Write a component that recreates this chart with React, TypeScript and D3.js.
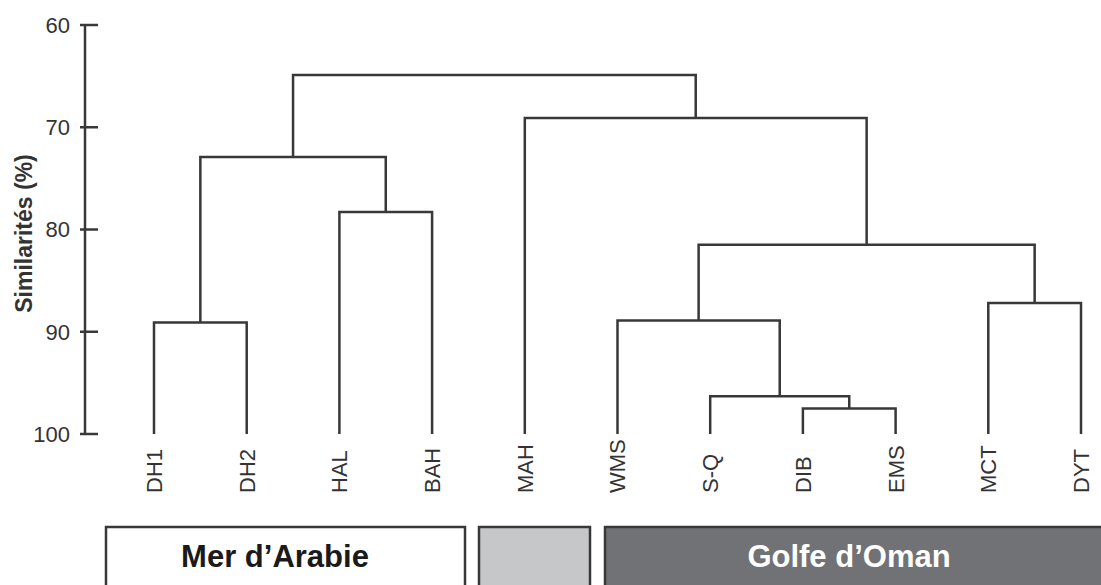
import React from "react";
import * as d3 from "d3";

const leaves = ["DH1", "DH2", "HAL", "BAH", "MAH", "WMS", "S-Q", "DIB", "EMS", "MCT", "DYT"];

// merges: two children (leaf names or merge ids) joined at a similarity level (%)
const mergeIds = ["a", "b", "c", "d", "e", "f", "g", "h", "i", "j"];
const mergeLeft = ["DH1", "HAL", "a", "DIB", "S-Q", "WMS", "MCT", "f", "MAH", "c"];
const mergeRight = ["DH2", "BAH", "b", "EMS", "d", "e", "DYT", "g", "h", "i"];
const mergeSim = [89.1, 78.3, 72.9, 97.5, 96.3, 88.9, 87.2, 81.5, 69.1, 64.9];

const yTicks = [60, 70, 80, 90, 100];

const groupNames = ["Mer d\u2019Arabie", "", "Golfe d\u2019Oman"];
const groupFills = ["#ffffff", "#c6c7c9", "#707275"];
const groupText = ["#1a1a1a", "#1a1a1a", "#ffffff"];

const W = 1101;
const H = 585;
const INK = "#383838";
const FONT = "'Liberation Sans', Arial, Helvetica, sans-serif";

// layout of the region boxes below the labels (px)
const boxX0 = [106, 479, 605];
const boxX1 = [465, 590, 1115];
const boxTextX = [275, 0, 849];
const boxTop = 527;

const App: React.FC = () => {
  const x = d3.scalePoint<string>().domain(leaves).range([154, 1081]);
  const y = d3.scaleLinear().domain([60, 100]).range([25, 434]);

  const pos: Record<string, { x: number; s: number }> = {};
  leaves.forEach((l) => (pos[l] = { x: x(l) ?? 0, s: 100 }));

  const links: string[] = [];
  mergeIds.forEach((id, i) => {
    const L = pos[mergeLeft[i]];
    const R = pos[mergeRight[i]];
    const s = mergeSim[i];
    const p = d3.path();
    p.moveTo(L.x, y(L.s));
    p.lineTo(L.x, y(s));
    p.lineTo(R.x, y(s));
    p.lineTo(R.x, y(R.s));
    links.push(p.toString());
    pos[id] = { x: (L.x + R.x) / 2, s };
  });

  const axisX = 85;

  return (
    <svg
      width={W}
      height={H}
      style={{ position: "absolute", left: 0, top: 0, background: "#fff" }}
      fontFamily={FONT}
    >
      {/* y axis */}
      <line x1={axisX} x2={axisX} y1={y(60)} y2={y(100)} stroke={INK} strokeWidth={2.5} />
      {yTicks.map((t) => (
        <g key={t} transform={`translate(0,${y(t)})`}>
          <line x1={axisX - 5} x2={axisX + 13} stroke={INK} strokeWidth={2.5} />
          <text x={70} dy="0.36em" textAnchor="end" fontSize={22} fill="#333">
            {t}
          </text>
        </g>
      ))}
      <text
        transform={`translate(24,${(y(60) + y(100)) / 2 + 4}) rotate(-90)`}
        dy="0.36em"
        textAnchor="middle"
        fontSize={23}
        fontWeight="bold"
        fill="#333"
      >
        Similarités (%)
      </text>

      {/* dendrogram */}
      {links.map((d, i) => (
        <path key={i} d={d} fill="none" stroke={INK} strokeWidth={2.5} strokeLinejoin="miter" />
      ))}

      {/* leaf labels */}
      {leaves.map((l) => (
        <text
          key={l}
          transform={`translate(${x(l)},493) rotate(-90)`}
          dy="0.36em"
          textAnchor="start"
          fontSize={22}
          fill="#333"
        >
          {l}
        </text>
      ))}

      {/* region boxes */}
      {groupNames.map((g, i) => (
        <g key={i}>
          <rect
            x={boxX0[i]}
            y={boxTop}
            width={boxX1[i] - boxX0[i]}
            height={H - boxTop + 20}
            fill={groupFills[i]}
            stroke={INK}
            strokeWidth={2.5}
          />
          {g && (
            <text
              x={boxTextX[i]}
              y={567}
              textAnchor="middle"
              fontSize={31}
              fontWeight="bold"
              fill={groupText[i]}
            >
              {g}
            </text>
          )}
        </g>
      ))}
    </svg>
  );
};

export default App;
